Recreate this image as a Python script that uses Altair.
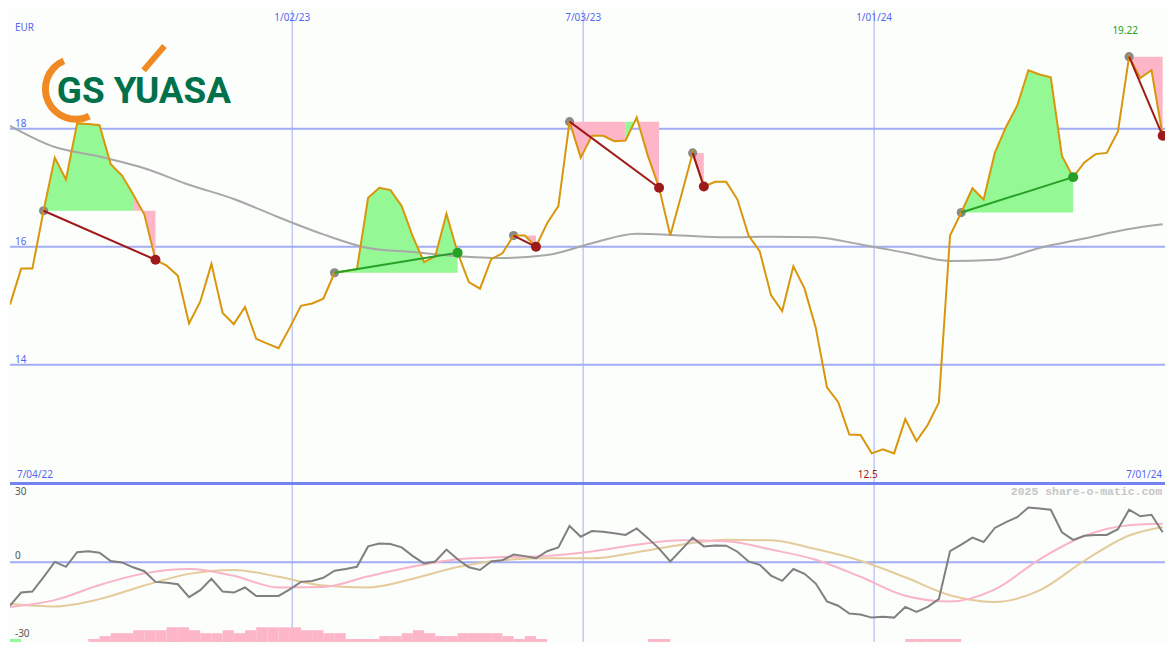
import altair as alt
import pandas as pd

# ------------------------------------------------------------------ data
start_date = "2022-07-09 12:00"
n_weeks = 104

price = [15.02, 15.63, 15.63, 16.61, 17.51, 17.14, 18.09, 18.08, 18.06, 17.40,
         17.21, 16.89, 16.55, 15.78, 15.68, 15.51, 14.70, 15.07, 15.71, 14.88,
         14.69, 14.98, 14.44, 14.36, 14.28, 14.63, 15.00, 15.04, 15.12, 15.56,
         15.59, 15.62, 16.83, 17.00, 16.96, 16.69, 16.17, 15.74, 15.84, 16.56,
         15.90, 15.40, 15.29, 15.79, 15.89, 16.19, 16.19, 16.00, 16.40, 16.69,
         18.12, 17.51, 17.88, 17.88, 17.79, 17.80, 18.19, 17.54, 17.00, 16.19,
         16.88, 17.59, 17.02, 17.10, 17.10, 16.80, 16.19, 15.92, 15.18, 14.91,
         15.67, 15.29, 14.63, 13.62, 13.37, 12.82, 12.81, 12.50, 12.57, 12.50,
         13.08, 12.71, 12.98, 13.36, 16.19, 16.58, 16.99, 16.80, 17.59, 18.03,
         18.39, 18.99, 18.92, 18.87, 17.54, 17.18, 17.43, 17.57, 17.59, 17.95,
         19.22, 18.86, 18.99, 17.88]

smooth_weeks = [0, 4, 8, 12, 16, 20, 24, 28, 32, 36, 40, 44, 48, 52, 56, 60,
                64, 68, 72, 76, 80, 84, 88, 92, 96, 100, 103]
moving_avg = [18.05, 17.69, 17.53, 17.33, 17.05, 16.81, 16.50, 16.21, 15.98, 15.91,
              15.84, 15.81, 15.86, 16.06, 16.22, 16.19, 16.16, 16.17, 16.16, 16.04,
              15.90, 15.76, 15.78, 15.98, 16.14, 16.30, 16.38]

oscillator = [-17.9, -12.5, -12.1, -6.1, 0.1, -1.9, 4.1, 4.5, 3.9, 0.5,
              -0.1, -2.1, -3.7, -8.1, -8.5, -9.1, -14.4, -11.5, -6.8, -12.1,
              -12.5, -10.4, -13.9, -13.9, -13.9, -11.2, -8.1, -7.7, -6.4, -3.5,
              -2.8, -1.9, 6.5, 7.7, 7.5, 6.1, 2.5, -0.5, 0.3, 5.2,
              1.2, -2.1, -3.2, 0.3, 0.8, 3.2, 2.5, 1.6, 4.5, 6.1,
              14.9, 10.5, 12.8, 12.5, 11.9, 11.2, 13.9, 9.9, 5.6, 0.3,
              5.2, 10.1, 6.5, 6.9, 6.8, 4.3, 0.3, -1.1, -5.5, -7.7,
              -2.8, -4.8, -8.8, -16.1, -17.9, -21.1, -21.5, -22.8, -22.4, -22.8,
              -18.4, -20.5, -18.4, -15.2, 4.5, 7.2, 10.1, 8.3, 14.1, 16.5,
              18.5, 22.5, 22.1, 21.6, 12.3, 9.2, 10.9, 11.2, 11.2, 13.6,
              21.6, 18.9, 19.5, 12.3]

signal_fast = [-18.4, -15.6, -9.4, -4.6, -2.8, -5.6, -10.4, -10.2, -5.8, -1.8,
               1.2, 2.1, 2.6, 4.4, 7.2, 9.0, 8.6, 5.2, 1.0, -6.0,
               -13.8, -16.2, -11.2, 1.2, 10.8, 15.2, 15.8]
signal_slow = [-17.1, -18.2, -15.2, -9.6, -4.8, -3.2, -6.0, -9.6, -10.4, -6.8,
               -2.0, 0.8, 1.6, 1.6, 4.1, 7.2, 9.2, 9.0, 5.4, 0.6,
               -6.2, -13.6, -16.4, -11.6, 0.6, 11.0, 14.5]

histogram = ([1, 0, 0, 0, 0, 0, 0, -1, -2, -3, -3, -4, -4, -4, -5, -5, -4, -3, -3, -4,
              -3, -4, -5, -5, -5, -5, -4, -4, -3, -3, -1, -1, -1, -2, -2, -3, -4, -3,
              -2, -2, -3, -3, -3, -3, -2, -1, -2, -1]
             + [0] * 9 + [-1, -1] + [0] * 21 + [-1, -1, -1, -1, -1] + [0] * 19)

sig_start = [3, 29, 45, 50, 61, 85, 100]
sig_end = [13, 40, 47, 58, 62, 95, 103]

price_levels = [18, 16, 14]
osc_labels = ["30", "0", "-30"]
osc_values = [30, 0, -30]
tick_dates = ["2023-01-02T00:00:00", "2023-07-03T00:00:00", "2024-01-01T00:00:00"]
tick_labels = ["1/02/23", "7/03/23", "1/01/24"]
period_labels = ["7/04/22", "7/01/24"]
currency = "EUR"
watermark = "2025 share-o-matic.com"
logo_text = "GS YUASA"

# ------------------------------------------------------------------ tables
t0 = pd.Timestamp(start_date)
dates = [(t0 + pd.Timedelta(days=7 * i)).strftime("%Y-%m-%dT%H:%M:%S") for i in range(n_weeks)]
dates_next = [(t0 + pd.Timedelta(days=7 * (i + 1))).strftime("%Y-%m-%dT%H:%M:%S") for i in range(n_weeks)]

price_df = pd.DataFrame({"date": dates, "price": price})
ma_df = pd.DataFrame({"date": [dates[w] for w in smooth_weeks], "ma": moving_avg})
osc_df = pd.DataFrame({"date": dates, "v": oscillator})
sm_df = pd.DataFrame({"date": [dates[w] for w in smooth_weeks], "fast": signal_fast, "slow": signal_slow})
hist_df = pd.DataFrame({"date": dates, "date2": dates_next, "h": [abs(v) for v in histogram],
                        "sign": ["up" if v > 0 else "down" for v in histogram]})
hist_df = hist_df[hist_df["h"] > 0]
ticks_df = pd.DataFrame({"date": tick_dates, "label": tick_labels})
levels_df = pd.DataFrame({"level": price_levels, "label": [str(v) for v in price_levels]})

fill_rows, conn_rows, start_rows, end_rows = [], [], [], []
for k, (s, e) in enumerate(zip(sig_start, sig_end)):
    base = price[s]
    run, prev = -1, None
    for i in range(s, e):
        kind = "up" if price[i + 1] > base else "down"
        if kind != prev:
            run += 1
            prev = kind
            fill_rows.append(dict(date=dates[i], price=price[i], base=base, seg=f"{k}-{run}", kind=kind))
        fill_rows.append(dict(date=dates[i + 1], price=price[i + 1], base=base, seg=f"{k}-{run}", kind=kind))
    outcome = "up" if price[e] > price[s] else "down"
    conn_rows.append(dict(date=dates[s], price=price[s], sig=k, outcome=outcome))
    conn_rows.append(dict(date=dates[e], price=price[e], sig=k, outcome=outcome))
    start_rows.append(dict(date=dates[s], price=price[s]))
    end_rows.append(dict(date=dates[e], price=price[e], outcome=outcome))
fill_df = pd.DataFrame(fill_rows)
conn_df = pd.DataFrame(conn_rows)
start_df = pd.DataFrame(start_rows)
end_df = pd.DataFrame(end_rows)

imax = price.index(max(price))
imin = price.index(min(price))
max_df = pd.DataFrame({"date": [dates[imax]], "label": [f"{max(price):.2f}"]})
min_df = pd.DataFrame({"date": [dates[imin]], "label": [f"{min(price):g}"]})
one = pd.DataFrame({"a": [0]})

# ------------------------------------------------------------------ style
W, H1, H2 = 1159, 475, 159
BG = "#FBFEFB"
GRID = "#A2ADF3"
SEP = "#7483EE"
BLUE = "#5565EE"
ORANGE = "#D9960B"
GREEN_FILL = "#94F894"
PINK_FILL = "#FDB6C8"
UP = "#26A026"
DOWN = "#9E1A1A"
FONT = "Noto Sans"

xs = alt.Scale(domain=[alt.DateTime(year=2022, month=7, date=9, hours=12),
                       alt.DateTime(year=2024, month=6, date=30, hours=23)], nice=False)
ys_top = alt.Scale(domain=[11.99, 20.01], nice=False, zero=False)
ys_bot = alt.Scale(domain=[-32.8, 32.4], nice=False, zero=False)
ys_hist = alt.Scale(domain=[0, 54.3], nice=False, zero=False)


def X(f="date"):
    return alt.X(f"{f}:T", scale=xs, axis=None)


def YT(f):
    return alt.Y(f"{f}:Q", scale=ys_top, axis=None)


def YB(f):
    return alt.Y(f"{f}:Q", scale=ys_bot, axis=None)


# ------------------------------------------------------------------ top panel
top_layers = [
    alt.Chart(levels_df).mark_rule(color=GRID, strokeWidth=2).encode(y=YT("level")),
    alt.Chart(ticks_df).mark_rule(color=GRID, strokeWidth=1).encode(x=X()),
]
for kind, col in [("up", GREEN_FILL), ("down", PINK_FILL)]:
    top_layers.append(
        alt.Chart(fill_df[fill_df["kind"] == kind]).mark_area(color=col, opacity=1, clip=True)
        .encode(x=X(), y=YT("price"), y2="base:Q", detail="seg:N"))
top_layers += [
    alt.Chart(ma_df).mark_line(color="#A8A8A8", strokeWidth=2, interpolate="monotone", clip=True)
    .encode(x=X(), y=YT("ma")),
    alt.Chart(start_df).mark_circle(size=85, color="#8A8A8A", opacity=1).encode(x=X(), y=YT("price")),
    alt.Chart(price_df).mark_line(color=ORANGE, strokeWidth=2, clip=True).encode(x=X(), y=YT("price")),
]
for kind, col in [("up", UP), ("down", DOWN)]:
    top_layers.append(
        alt.Chart(conn_df[conn_df["outcome"] == kind]).mark_line(color=col, strokeWidth=2, clip=True)
        .encode(x=X(), y=YT("price"), detail="sig:N"))
    top_layers.append(
        alt.Chart(end_df[end_df["outcome"] == kind]).mark_circle(size=100, color=col, opacity=1, clip=True)
        .encode(x=X(), y=YT("price")))
top_layers += [
    alt.Chart(levels_df).mark_text(font=FONT, fontSize=10, color=BLUE, align="left", baseline="middle", dy=-5)
    .encode(x=alt.value(5), y=YT("level"), text="label:N"),
    alt.Chart(ticks_df).mark_text(font=FONT, fontSize=10, color=BLUE, baseline="middle")
    .encode(x=X(), y=alt.value(8), text="label:N"),
    alt.Chart(one).mark_text(text=currency, font=FONT, fontSize=10, color=BLUE, align="left", baseline="middle")
    .encode(x=alt.value(5), y=alt.value(17.5)),
    alt.Chart(one).mark_text(text=period_labels[0], font=FONT, fontSize=10, color=BLUE, align="left",
                             baseline="middle").encode(x=alt.value(7), y=alt.value(467)),
    alt.Chart(one).mark_text(text=period_labels[1], font=FONT, fontSize=10, color=BLUE, align="right",
                             baseline="middle").encode(x=alt.value(1156), y=alt.value(467)),
    alt.Chart(max_df).mark_text(font=FONT, fontSize=10, color="#22A022", baseline="middle", dx=-4)
    .encode(x=X(), y=alt.value(20.5), text="label:N"),
    alt.Chart(min_df).mark_text(font=FONT, fontSize=10, color="#A01818", baseline="middle", dx=-4)
    .encode(x=X(), y=alt.value(467), text="label:N"),
    # logo
    alt.Chart(one).mark_arc(color="#F18A22", radius=27, radius2=34, theta=2.68, theta2=5.88)
    .encode(x=alt.value(66), y=alt.value(79)),
    alt.Chart(one).mark_rule(color="#F18A22", strokeWidth=6)
    .encode(x=alt.value(134), y=alt.value(60.5), x2=alt.value(155), y2=alt.value(36)),
    alt.Chart(one).mark_text(text=logo_text, font="Roboto", fontSize=37, fontWeight="bold", color="#00714A",
                             align="left", baseline="alphabetic").encode(x=alt.value(47), y=alt.value(93.5)),
]
top = alt.layer(*top_layers).properties(width=W, height=H1)

# ------------------------------------------------------------------ bottom panel
bot_layers = [
    alt.Chart(ticks_df).mark_rule(color=GRID, strokeWidth=1).encode(x=X()),
    alt.Chart(pd.DataFrame({"v": [0]})).mark_rule(color=GRID, strokeWidth=2).encode(y=YB("v")),
]
for kind, col in [("up", GREEN_FILL), ("down", PINK_FILL)]:
    bot_layers.append(
        alt.Chart(hist_df[hist_df["sign"] == kind]).mark_rect(color=col, opacity=1)
        .encode(x=X(), x2="date2:T", y=alt.Y("h:Q", scale=ys_hist, axis=None), y2=alt.datum(0)))
bot_layers += [
    alt.Chart(sm_df).mark_line(color="#E5CB9B", strokeWidth=2, interpolate="monotone", clip=True)
    .encode(x=X(), y=YB("slow")),
    alt.Chart(sm_df).mark_line(color="#F9B4C8", strokeWidth=2, interpolate="monotone", clip=True)
    .encode(x=X(), y=YB("fast")),
    alt.Chart(osc_df).mark_line(color="#808080", strokeWidth=2, clip=True).encode(x=X(), y=YB("v")),
    alt.Chart(one).mark_text(text=watermark, font="Liberation Mono", fontSize=11.5, fontWeight="bold",
                             color="#C6C6C6", align="right", baseline="middle")
    .encode(x=alt.value(1156), y=alt.value(8.5)),
]
for lab, val, dy in zip(osc_labels, osc_values, [2.5, -6, -1]):
    bot_layers.append(
        alt.Chart(pd.DataFrame({"v": [val], "label": [lab]}))
        .mark_text(font=FONT, fontSize=10, color="#555555", align="left", baseline="middle", dy=dy)
        .encode(x=alt.value(5), y=YB("v"), text="label:N"))
bot_layers.append(alt.Chart(one).mark_rule(color=SEP, strokeWidth=3).encode(y=alt.value(0)))
bottom = alt.layer(*bot_layers).resolve_scale(y="independent").properties(width=W, height=H2)

chart = (alt.vconcat(top, bottom, spacing=0, bounds="flush")
         .properties(background=BG, padding=0)
         .configure_view(stroke=None))

chart.save("out.html", embed_options={"renderer": "svg", "actions": False})
